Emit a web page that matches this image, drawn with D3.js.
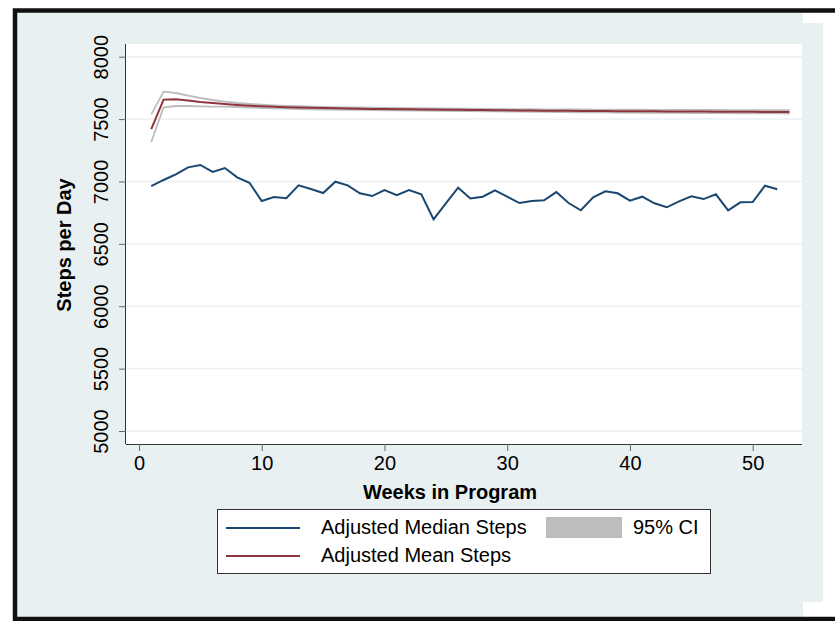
<!DOCTYPE html>
<html>
<head>
<meta charset="utf-8">
<script src="https://cdn.jsdelivr.net/npm/d3@7"></script>
<style>
  body { margin: 0; background: #fff; }
  svg { display: block; font-family: "Liberation Sans", Arial, Helvetica, sans-serif; }
</style>
</head>
<body>
<svg id="chart" width="835" height="621"></svg>
<script>
// median steps, weeks 1..52
const medianSteps = [6963, 7012, 7057, 7113, 7132, 7076, 7108, 7033, 6990, 6843,
	6875, 6865, 6969, 6940, 6907, 6998, 6969, 6905, 6883, 6931,
	6891, 6931, 6897, 6696, 6825, 6950, 6864, 6878, 6929, 6878,
	6827, 6843, 6849, 6915, 6827, 6769, 6873, 6921, 6905, 6846,
	6878, 6825, 6793, 6841, 6881, 6859, 6897, 6769, 6833, 6835,
	6966, 6937];
// mean steps and its 95% CI, weeks 1..53
const meanSteps = [7420, 7656, 7658, 7648, 7637, 7629, 7621, 7613, 7607, 7602,
	7598, 7595, 7592, 7590, 7588, 7586, 7584, 7583, 7581, 7580,
	7579, 7578, 7577, 7576, 7575, 7574, 7573, 7572, 7571, 7570,
	7569, 7568, 7567, 7567, 7566, 7565, 7564, 7564, 7563, 7563,
	7562, 7562, 7561, 7561, 7560, 7560, 7559, 7559, 7558, 7558,
	7557, 7557, 7557];
const ciUpper = [7538, 7720, 7709, 7688, 7669, 7653, 7640, 7629, 7621, 7615,
	7610, 7606, 7603, 7600, 7598, 7596, 7594, 7593, 7591, 7590,
	7589, 7588, 7587, 7586, 7585, 7584, 7583, 7582, 7581, 7580,
	7579, 7579, 7578, 7578, 7577, 7577, 7576, 7576, 7575, 7575,
	7575, 7574, 7574, 7574, 7573, 7573, 7573, 7572, 7572, 7572,
	7572, 7571, 7571];
const ciLower = [7316, 7594, 7605, 7605, 7602, 7600, 7600, 7597, 7593, 7589,
	7586, 7584, 7581, 7579, 7577, 7576, 7574, 7573, 7571, 7570,
	7569, 7568, 7567, 7566, 7565, 7564, 7563, 7562, 7561, 7560,
	7559, 7558, 7557, 7556, 7555, 7554, 7553, 7553, 7552, 7551,
	7550, 7550, 7549, 7549, 7548, 7548, 7547, 7547, 7546, 7546,
	7545, 7545, 7544];
const xTicks = [0, 10, 20, 30, 40, 50];
const yTicks = [5000, 5500, 6000, 6500, 7000, 7500, 8000];
const legendItems = ["Adjusted Median Steps", "Adjusted Mean Steps", "95% CI"];

const navy = "#1a476f";
const maroon = "#90353b";
const ciGray = "#bdbdbd";
const bg = "#e9f0f2";

const svg = d3.select("#chart");

// graph region + frame
svg.append("rect").attr("x", 17).attr("y", 12).attr("width", 786).attr("height", 606).attr("fill", bg);
svg.append("rect").attr("x", 803).attr("y", 23).attr("width", 20).attr("height", 579).attr("fill", bg);
svg.append("rect").attr("x", 15).attr("y", 10.5).attr("width", 900).attr("height", 608.5)
	.attr("fill", "none").attr("stroke", "#111").attr("stroke-width", 4.5);

const plot = { left: 126, right: 802, top: 44, bottom: 444 };
svg.append("rect").attr("x", plot.left).attr("y", plot.top)
	.attr("width", plot.right - plot.left).attr("height", plot.bottom - plot.top).attr("fill", "#fff");

const x = d3.scaleLinear().domain([0, 50]).range([139, 752.7]);
const y = d3.scaleLinear().domain([5000, 8000]).range([431, 56.7]);

// gridlines
svg.append("g").selectAll("line").data(yTicks).enter().append("line")
	.attr("x1", plot.left).attr("x2", plot.right)
	.attr("y1", d => y(d)).attr("y2", d => y(d))
	.attr("stroke", "#eaf0f3").attr("stroke-width", 1.5);

// axes
const xAxis = svg.append("g")
	.attr("transform", "translate(0," + plot.bottom + ")")
	.call(d3.axisBottom(x).tickValues(xTicks).tickSize(7).tickPadding(5).tickSizeOuter(0));
xAxis.select(".domain").attr("d", "M" + plot.left + ",0.5H" + plot.right).attr("stroke", "#333");
xAxis.selectAll(".tick line").attr("stroke", "#666");
xAxis.selectAll("text").style("font-size", "20px").attr("fill", "#000").attr("dy", "0.72em");

const yAxis = svg.append("g")
	.attr("transform", "translate(" + plot.left + ",0)")
	.call(d3.axisLeft(y).tickValues(yTicks).tickFormat(d3.format("d")).tickSize(7).tickSizeOuter(0));
yAxis.select(".domain").attr("d", "M-0.5," + plot.top + "V" + plot.bottom).attr("stroke", "#333");
yAxis.selectAll(".tick line").attr("stroke", "#666");
yAxis.selectAll("text")
	.style("font-size", "20px").attr("fill", "#000")
	.attr("text-anchor", "middle")
	.attr("x", null).attr("dy", null)
	.attr("transform", "translate(-18,0) rotate(-90)");

// axis titles
svg.append("text").attr("x", 450).attr("y", 499).attr("text-anchor", "middle")
	.style("font-size", "20px").style("font-weight", "bold").text("Weeks in Program");
svg.append("text").attr("transform", "translate(71,245) rotate(-90)").attr("text-anchor", "middle")
	.style("font-size", "20px").style("font-weight", "bold").text("Steps per Day");

// series
const line = d3.line().x((d, i) => x(i + 1)).y(d => y(d));
svg.append("path").datum(ciUpper).attr("d", line).attr("fill", "none")
	.attr("stroke", ciGray).attr("stroke-width", 1.8);
svg.append("path").datum(ciLower).attr("d", line).attr("fill", "none")
	.attr("stroke", ciGray).attr("stroke-width", 1.8);
svg.append("path").datum(meanSteps).attr("d", line).attr("fill", "none")
	.attr("stroke", maroon).attr("stroke-width", 2);
svg.append("path").datum(medianSteps).attr("d", line).attr("fill", "none")
	.attr("stroke", navy).attr("stroke-width", 2);

// legend
const lg = svg.append("g");
lg.append("rect").attr("x", 217.5).attr("y", 509.5).attr("width", 493).attr("height", 64)
	.attr("fill", "#fff").attr("stroke", "#333").attr("stroke-width", 1);
lg.append("line").attr("x1", 226).attr("x2", 300).attr("y1", 528).attr("y2", 528)
	.attr("stroke", navy).attr("stroke-width", 2);
lg.append("line").attr("x1", 226).attr("x2", 300).attr("y1", 556).attr("y2", 556)
	.attr("stroke", maroon).attr("stroke-width", 2);
lg.append("text").attr("x", 321).attr("y", 534).style("font-size", "20px").text(legendItems[0]);
lg.append("text").attr("x", 321).attr("y", 562).style("font-size", "20px").text(legendItems[1]);
lg.append("rect").attr("x", 546).attr("y", 517).attr("width", 76).attr("height", 21).attr("fill", ciGray);
lg.append("text").attr("x", 633).attr("y", 534).style("font-size", "20px").text(legendItems[2]);
</script>
</body>
</html>
